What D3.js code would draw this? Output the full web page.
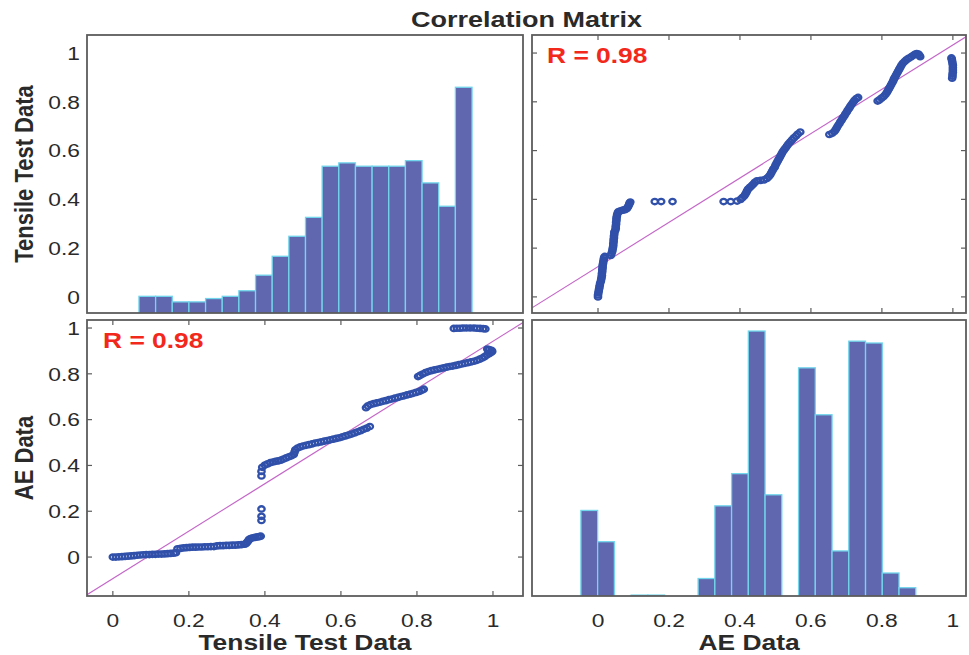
<!DOCTYPE html>
<html><head><meta charset="utf-8">
<script src="https://cdn.jsdelivr.net/npm/d3@7"></script>
<style>
body{margin:0;background:#fff;}
svg{display:block;}
text{font-family:"Liberation Sans",Arial,Helvetica,sans-serif;}
</style>
</head><body>
<svg id="c" width="969" height="655"></svg>
<script>
// ---------------- DATA ----------------
const chartTitle = "Correlation Matrix";
const varNames = ["Tensile Test Data", "AE Data"];
const tickValues = [0, 0.2, 0.4, 0.6, 0.8, 1];
const tickLabels = ["0", "0.2", "0.4", "0.6", "0.8", "1"];
const corrLabel = "R = 0.98";

// paired observations (sorted by tensile value)
const tensile = [
  0.000,0.008,0.016,0.024,0.032,0.040,0.048,0.056,0.064,0.072,0.080,0.088,0.096,0.104,0.112,0.120,0.128,0.136,0.144,0.152,0.160,0.166,
  0.170,0.178,0.186,0.194,0.202,0.210,0.218,0.226,0.234,0.242,0.250,0.258,0.266,0.274,0.282,0.290,0.298,0.306,0.314,0.322,0.330,0.338,0.346,
  0.350,0.353,0.356,0.358,0.362,0.368,0.374,0.380,0.385,0.389,
  0.391,0.391,0.391,0.391,0.391,
  0.393,0.400,0.407,0.414,0.421,0.428,0.435,0.442,0.449,0.456,0.463,0.470,0.476,0.478,0.480,0.486,0.493,0.500,0.508,0.516,
  0.524,0.532,0.540,0.548,0.556,0.564,0.572,0.580,0.588,0.596,0.604,0.612,0.620,0.628,0.636,0.644,0.652,0.660,0.668,0.676,
  0.666,0.671,0.678,0.686,0.694,0.702,0.710,0.718,0.726,0.734,0.742,0.750,0.758,0.766,0.774,0.782,0.790,0.798,0.806,0.813,0.818,
  0.803,0.808,0.815,0.822,0.830,0.838,0.846,0.854,0.862,0.870,0.878,0.886,0.894,0.902,0.910,0.918,0.926,0.934,0.942,0.950,
  0.958,0.965,0.972,0.978,0.984,0.990,0.995,0.998,0.996,0.990,0.985,
  0.897,0.905,0.913,0.921,0.930,0.940,0.950,0.958,0.966,0.974,0.980
];
const ae = [
  0.000,0.000,0.001,0.002,0.003,0.004,0.005,0.006,0.008,0.009,0.010,0.011,0.011,0.012,0.012,0.013,0.013,0.014,0.015,0.016,0.017,0.019,
  0.036,0.038,0.040,0.041,0.042,0.043,0.043,0.044,0.044,0.045,0.045,0.046,0.046,0.049,0.050,0.050,0.051,0.051,0.052,0.052,0.053,0.054,0.056,
  0.058,0.064,0.070,0.076,0.081,0.084,0.086,0.088,0.089,0.091,
  0.160,0.178,0.210,0.354,0.374,
  0.392,0.402,0.407,0.412,0.415,0.418,0.420,0.423,0.428,0.433,0.438,0.442,0.448,0.458,0.468,0.476,0.481,0.485,0.488,0.491,
  0.494,0.498,0.500,0.503,0.506,0.509,0.512,0.515,0.518,0.521,0.525,0.529,0.533,0.537,0.542,0.547,0.552,0.558,0.563,0.570,
  0.652,0.660,0.666,0.670,0.673,0.676,0.680,0.683,0.687,0.690,0.694,0.697,0.701,0.704,0.708,0.711,0.715,0.719,0.723,0.728,0.733,
  0.788,0.793,0.799,0.805,0.810,0.814,0.817,0.820,0.823,0.826,0.829,0.832,0.834,0.837,0.840,0.843,0.846,0.849,0.852,0.855,
  0.859,0.864,0.869,0.875,0.882,0.888,0.893,0.898,0.903,0.906,0.908,
  0.998,0.999,0.999,1.000,1.000,1.000,1.000,0.999,0.998,0.997,0.996
];

// least-squares lines shown in the off-diagonal panels: [slope, intercept]
const fitAEonTensile = [1.036, -0.094];
const fitTensileOnAE = [0.909, 0.124];

// histograms (diagonal panels)
const tensileBinEdges = [0,0.05,0.10,0.15,0.20,0.25,0.30,0.35,0.40,0.45,0.50,0.55,0.60,0.65,0.70,0.75,0.80,0.85,0.90,0.95,1.00];
const tensileCounts = [15,15,10,10,13,15,20,34,51,69,86,132,135,132,132,132,137,117,96,203];
const aeBinEdges = [0,0.05,0.10,0.15,0.20,0.25,0.30,0.35,0.40,0.45,0.50,0.55,0.60,0.65,0.70,0.75,0.80,0.85,0.90,0.95,1.00];
const aeCounts = [93,59,0,1,1,0,0,19,98,133,288,110,0,248,197,49,277,275,25,9];

// ---------------- LAYOUT ----------------
const svg = d3.select("#c");
const SX = 1.2; // horizontal stretch of the original figure's text
const cols = [{x0:87, x1:523}, {x0:532, x1:966}];
const rows = [{y0:35, y1:313}, {y0:320, y1:596}];
const borderColor = "#5c5c5c";
const textColor = "#2a2a2a";
const barFill = "#6067ae", barEdge = "#72d6ec";
const markColor = "#3050aa";
const lineColor = "#c466c8";

const tX = d3.scaleLinear().domain([-0.068, 1.079]).range([cols[0].x0, cols[0].x1]);
const aX = d3.scaleLinear().domain([-0.186, 1.037]).range([cols[1].x0, cols[1].x1]);
const tY = d3.scaleLinear().domain([-0.066, 1.074]).range([rows[0].y1, rows[0].y0]);
const aY = d3.scaleLinear().domain([-0.17, 1.035]).range([rows[1].y1, rows[1].y0]);

const defs = svg.append("defs");
function clip(id, c, r){
  defs.append("clipPath").attr("id", id).append("rect")
    .attr("x", c.x0).attr("y", r.y0).attr("width", c.x1 - c.x0).attr("height", r.y1 - r.y0);
}
clip("cTL", cols[0], rows[0]); clip("cTR", cols[1], rows[0]);
clip("cBL", cols[0], rows[1]); clip("cBR", cols[1], rows[1]);

function addText(x, y, str, o){
  o = o || {};
  const t = svg.append("text")
    .attr("transform", o.rotate ? `translate(${x},${y}) rotate(-90) scale(1,${SX})` : `translate(${x},${y}) scale(${SX},1)`)
    .attr("text-anchor", o.anchor || "middle")
    .attr("font-size", o.size || 19)
    .attr("font-weight", o.bold ? "bold" : "normal")
    .attr("fill", o.fill || textColor)
    .text(str);
  if (o.baseline) t.attr("dominant-baseline", o.baseline);
  return t;
}

// ---------------- HISTOGRAMS ----------------
function histogram(c, r, edges, counts, xDom, yMax, clipId){
  const hx = d3.scaleLinear().domain(xDom).range([c.x0, c.x1]);
  const hy = d3.scaleLinear().domain([0, yMax]).range([r.y1, r.y0]);
  const g = svg.append("g").attr("clip-path", `url(#${clipId})`);
  const data = counts.map((v, i) => ({v, a: edges[i], b: edges[i+1]})).filter(d => d.v > 0);
  g.selectAll("rect").data(data).join("rect")
    .attr("x", d => hx(d.a)).attr("width", d => hx(d.b) - hx(d.a))
    .attr("y", d => hy(d.v)).attr("height", d => hy(0) - hy(d.v) + 2)
    .attr("fill", barFill).attr("stroke", barEdge).attr("stroke-width", 1.3);
}
histogram(cols[0], rows[0], tensileBinEdges, tensileCounts, [-0.156, 1.153], 250, "cTL");
histogram(cols[1], rows[1], aeBinEdges, aeCounts, [-0.146, 1.150], 300, "cBR");

// ---------------- SCATTERS ----------------
const pts = tensile.map((t, i) => ({t, a: ae[i]}));
function scatter(clipId, xs, ys, xKey, yKey, fit){
  const g = svg.append("g").attr("clip-path", `url(#${clipId})`);
  const d0 = xs.domain()[0], d1 = xs.domain()[1];
  g.append("line")
    .attr("x1", xs(d0)).attr("y1", ys(fit[0]*d0 + fit[1]))
    .attr("x2", xs(d1)).attr("y2", ys(fit[0]*d1 + fit[1]))
    .attr("stroke", lineColor).attr("stroke-width", 1.1);
  g.selectAll("ellipse").data(pts).join("ellipse")
    .attr("cx", d => xs(d[xKey])).attr("cy", d => ys(d[yKey]))
    .attr("rx", 3.2).attr("ry", 2.7)
    .attr("fill", "none").attr("stroke", markColor).attr("stroke-width", 2.3);
}
scatter("cTR", aX, tY, "a", "t", fitTensileOnAE);
scatter("cBL", tX, aY, "t", "a", fitAEonTensile);

// ---------------- FRAMES & TICKS ----------------
function frame(c, r){
  svg.append("rect").attr("x", c.x0).attr("y", r.y0)
    .attr("width", c.x1 - c.x0).attr("height", r.y1 - r.y0)
    .attr("fill", "none").attr("stroke", borderColor).attr("stroke-width", 1.8);
}
function ticks(c, r, xs, ys){
  const L = 5;
  const g = svg.append("g").attr("stroke", borderColor).attr("stroke-width", 1.2);
  tickValues.forEach(v => {
    const x = xs(v), y = ys(v);
    g.append("line").attr("x1", x).attr("x2", x).attr("y1", r.y0).attr("y2", r.y0 + L);
    g.append("line").attr("x1", x).attr("x2", x).attr("y1", r.y1).attr("y2", r.y1 - L);
    g.append("line").attr("y1", y).attr("y2", y).attr("x1", c.x0).attr("x2", c.x0 + L);
    g.append("line").attr("y1", y).attr("y2", y).attr("x1", c.x1).attr("x2", c.x1 - L);
  });
}
ticks(cols[1], rows[0], aX, tY);
ticks(cols[0], rows[1], tX, aY);
frame(cols[0], rows[0]); frame(cols[1], rows[0]);
frame(cols[0], rows[1]); frame(cols[1], rows[1]);

// ---------------- TEXT ----------------
tickValues.forEach((v, i) => {
  addText(80, tY(v), tickLabels[i], {anchor: "end", baseline: "central", size: 19});
  addText(80, aY(v), tickLabels[i], {anchor: "end", baseline: "central", size: 19});
  addText(tX(v), 627, tickLabels[i], {size: 19});
  addText(aX(v), 627, tickLabels[i], {size: 19});
});
addText(33, (rows[0].y0 + rows[0].y1) / 2, varNames[0], {rotate: true, bold: true, size: 22});
addText(33, (rows[1].y0 + rows[1].y1) / 2, varNames[1], {rotate: true, bold: true, size: 22});
addText((cols[0].x0 + cols[0].x1) / 2, 650, varNames[0], {bold: true, size: 22});
addText((cols[1].x0 + cols[1].x1) / 2, 650, varNames[1], {bold: true, size: 22});
addText((cols[0].x0 + cols[1].x1) / 2, 27, chartTitle, {bold: true, size: 22.5});
addText(cols[1].x0 + 15, rows[0].y0 + 28, corrLabel, {anchor: "start", bold: true, size: 22, fill: "#f2281c"});
addText(cols[0].x0 + 16, rows[1].y0 + 28, corrLabel, {anchor: "start", bold: true, size: 22, fill: "#f2281c"});
</script>
</body></html>
